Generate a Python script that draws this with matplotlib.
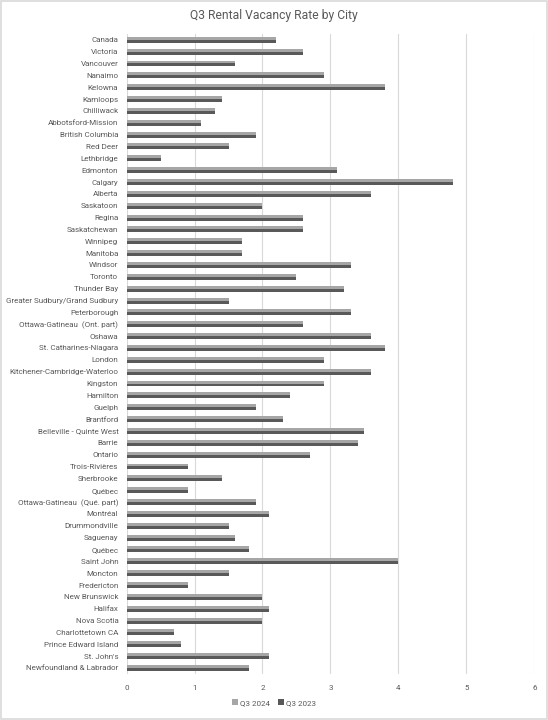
import matplotlib
matplotlib.use("Agg")
import matplotlib.pyplot as plt
import numpy as np
from matplotlib.patches import Rectangle

# ---------------------------------------------------------------- data ----
cities = [
    "Canada", "Victoria", "Vancouver", "Nanaimo", "Kelowna", "Kamloops", "Chilliwack",
    "Abbotsford-Mission", "British Columbia", "Red Deer", "Lethbridge", "Edmonton", "Calgary",
    "Alberta", "Saskatoon", "Regina", "Saskatchewan", "Winnipeg", "Manitoba", "Windsor",
    "Toronto", "Thunder Bay", "Greater Sudbury/Grand Sudbury", "Peterborough",
    "Ottawa-Gatineau  (Ont. part)", "Oshawa", "St. Catharines-Niagara", "London",
    "Kitchener-Cambridge-Waterloo", "Kingston", "Hamilton", "Guelph", "Brantford",
    "Belleville - Quinte West", "Barrie", "Ontario", "Trois-Rivières", "Sherbrooke", "Québec",
    "Ottawa-Gatineau  (Qué. part)", "Montréal", "Drummondville", "Saguenay", "Québec",
    "Saint John", "Moncton", "Fredericton", "New Brunswick", "Halifax", "Nova Scotia",
    "Charlottetown CA", "Prince Edward Island", "St. John's", "Newfoundland & Labrador",
]
q3_2024 = [
    2.2, 2.6, 1.6, 2.9, 3.8, 1.4, 1.3, 1.1, 1.9, 1.5, 0.5, 3.1, 4.8, 3.6, 2.0, 2.6, 2.6, 1.7,
    1.7, 3.3, 2.5, 3.2, 1.5, 3.3, 2.6, 3.6, 3.8, 2.9, 3.6, 2.9, 2.4, 1.9, 2.3, 3.5, 3.4, 2.7,
    0.9, 1.4, 0.9, 1.9, 2.1, 1.5, 1.6, 1.8, 4.0, 1.5, 0.9, 2.0, 2.1, 2.0, 0.7, 0.8, 2.1, 1.8,
]
q3_2023 = [
    2.2, 2.6, 1.6, 2.9, 3.8, 1.4, 1.3, 1.1, 1.9, 1.5, 0.5, 3.1, 4.8, 3.6, 2.0, 2.6, 2.6, 1.7,
    1.7, 3.3, 2.5, 3.2, 1.5, 3.3, 2.6, 3.6, 3.8, 2.9, 3.6, 2.9, 2.4, 1.9, 2.3, 3.5, 3.4, 2.7,
    0.9, 1.4, 0.9, 1.9, 2.1, 1.5, 1.6, 1.8, 4.0, 1.5, 0.9, 2.0, 2.1, 2.0, 0.7, 0.8, 2.1, 1.8,
]
series_labels = ["Q3 2024", "Q3 2023"]
x_ticks = [0, 1, 2, 3, 4, 5, 6]

LIGHT = "#a6a6a6"
DARK = "#595959"
GRID = "#d9d9d9"
TXT = "#595959"

plt.rcParams["font.family"] = ["Roboto", "DejaVu Sans"]

fig = plt.figure(figsize=(5.48, 7.2), dpi=100)
ax = fig.add_axes([0.231, 0.064, 0.744, 0.889])

y = np.arange(len(cities))
h = 0.25
ax.barh(y - h / 2, q3_2024, height=h, color=LIGHT, label=series_labels[0], zorder=3)
ax.barh(y + h / 2, q3_2023, height=h, color=DARK, label=series_labels[1], zorder=3)

ax.set_ylim(len(cities) - 0.5, -0.5)
ax.set_xlim(0, 6)
ax.set_xticks(x_ticks)
ax.set_yticks(y)
ax.set_yticklabels(cities)
ax.tick_params(axis="both", length=0, labelsize=5.8, labelcolor=TXT)
ax.tick_params(axis="y", pad=6)
ax.tick_params(axis="x", pad=8)
ax.grid(axis="x", color=GRID, lw=0.8, zorder=0)
for s in ax.spines.values():
    s.set_visible(False)

fig.suptitle("Q3 Rental Vacancy Rate by City", y=0.988, fontsize=8.7, color=TXT)

leg = fig.legend(loc="center", bbox_to_anchor=(0.5, 0.024), ncol=2, frameon=False,
                 fontsize=5.8, handlelength=0.7, handleheight=0.7, handletextpad=0.3,
                 columnspacing=1.0)
for t in leg.get_texts():
    t.set_color(TXT)

fig.patches.append(Rectangle((0.002, 0.002), 0.996, 0.996, transform=fig.transFigure,
                             fill=False, edgecolor=GRID, lw=1.2))

fig.savefig("out.png", dpi=100)
